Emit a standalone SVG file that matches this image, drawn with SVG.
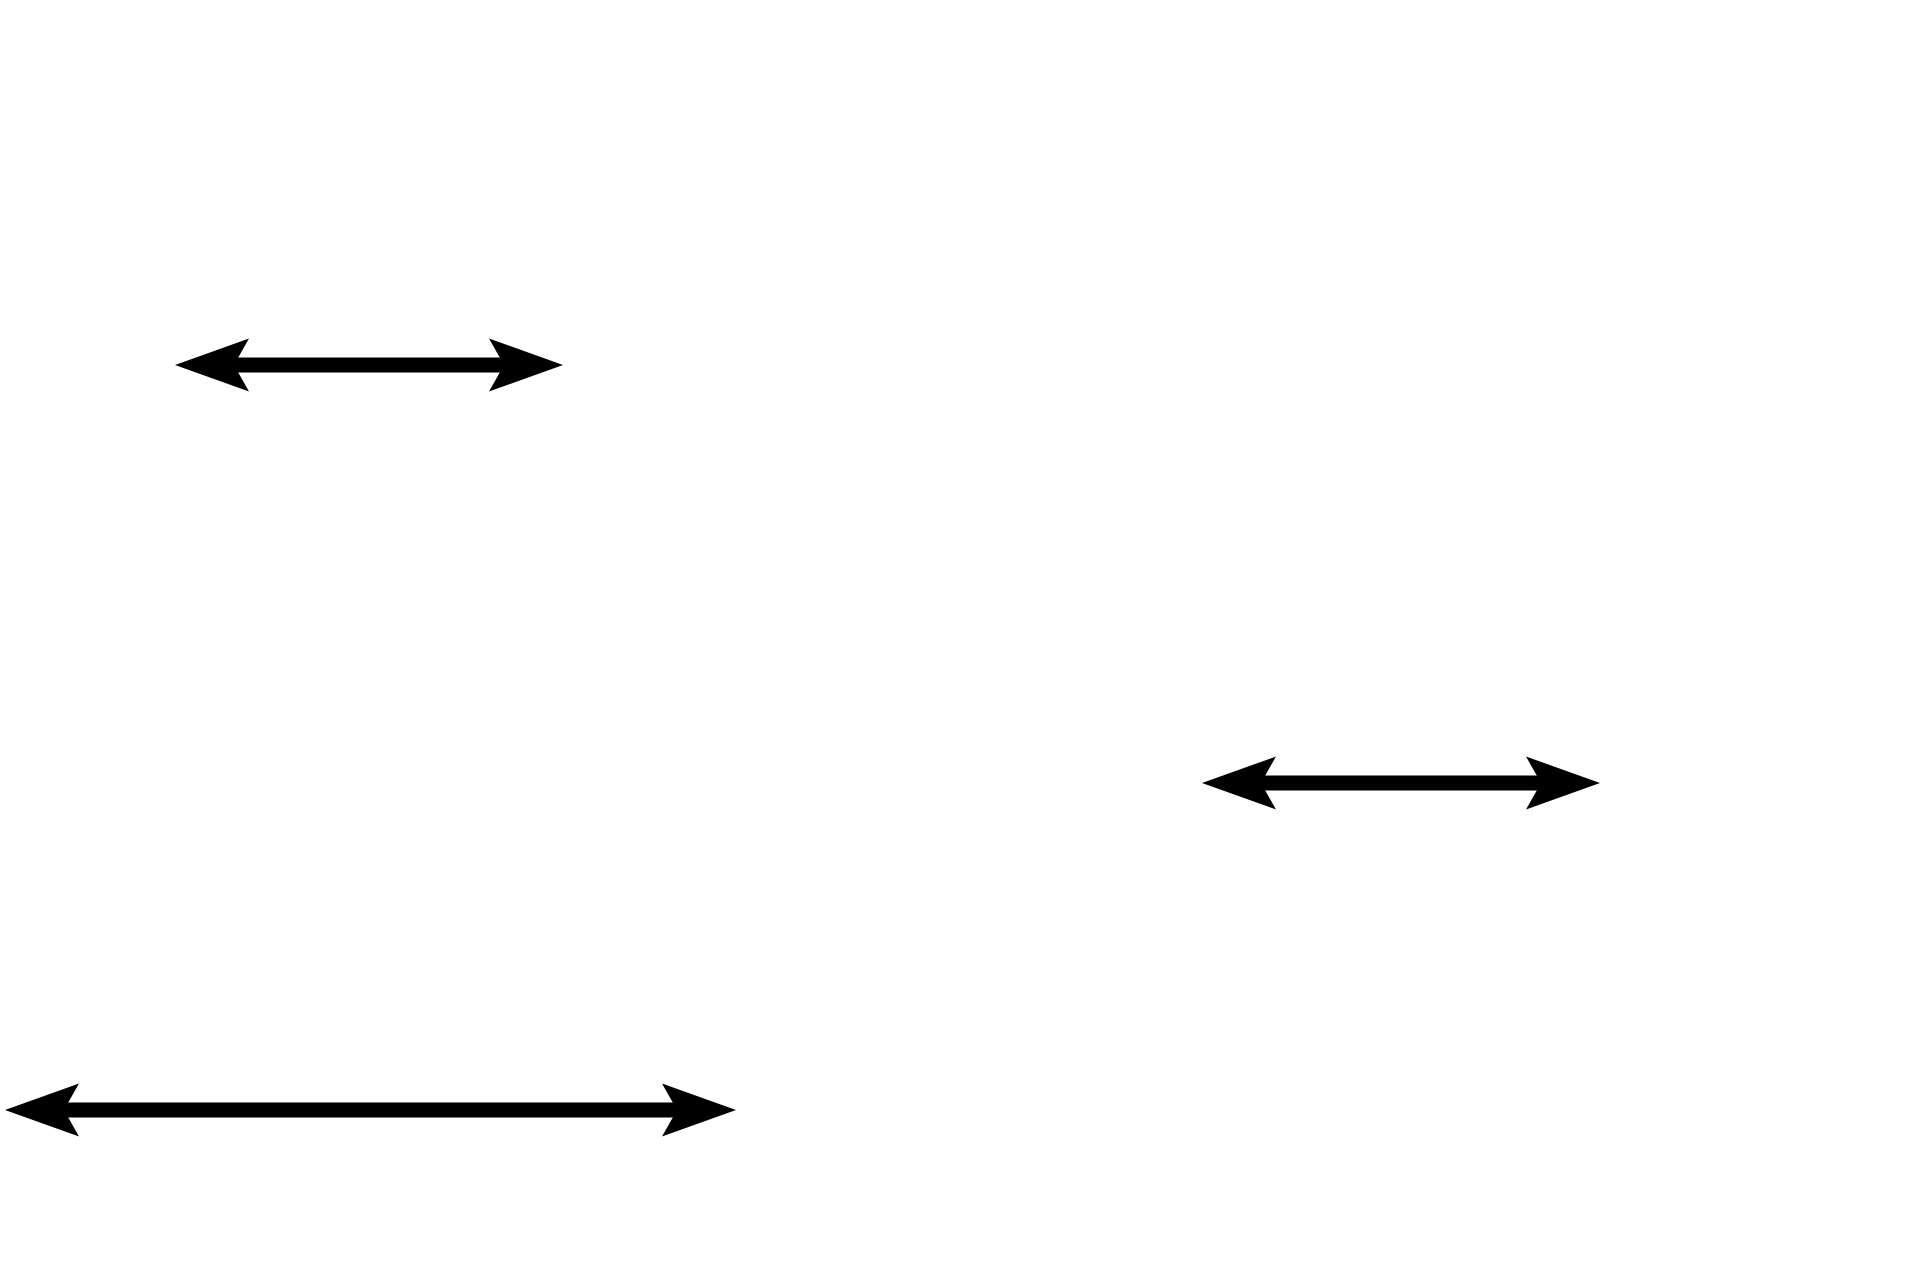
<svg xmlns="http://www.w3.org/2000/svg" width="1920" height="1280" viewBox="0 0 1920 1280">
  <style>
    .conn { stroke: #000; stroke-width: 15; fill: none; marker-start: url(#head); marker-end: url(#head); }
  </style>
  <defs>
    <marker id="head" markerUnits="userSpaceOnUse" viewBox="-20 -30 80 60" markerWidth="80" markerHeight="60" refX="0" refY="0" orient="auto-start-reverse" overflow="visible">
      <path d="M59,0 L-15,-26.5 L0,0 L-15,26.5 Z" fill="#000"/>
    </marker>
  </defs>
  <rect x="0" y="0" width="1920" height="1280" fill="#fff"/>
  <g id="connectors">
    <line id="arrow1" class="conn" x1="234" y1="365" x2="504" y2="365"/>
    <line id="arrow2" class="conn" x1="1261" y1="783" x2="1541" y2="783"/>
    <line id="arrow3" class="conn" x1="64" y1="1110" x2="677" y2="1110"/>
  </g>
</svg>
